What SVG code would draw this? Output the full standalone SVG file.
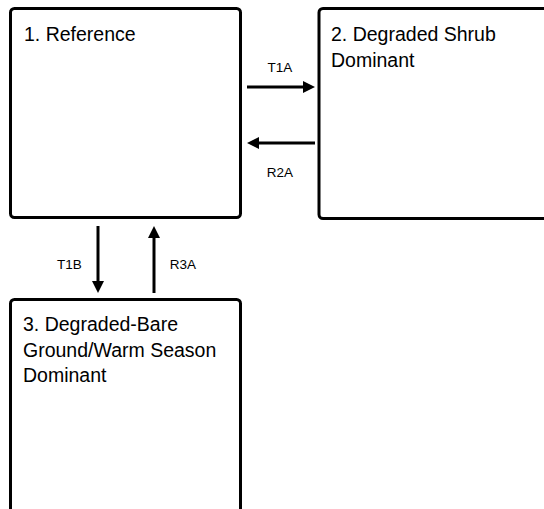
<svg xmlns="http://www.w3.org/2000/svg" width="544" height="509" viewBox="0 0 544 509">
<style>
.box{fill:#fff;stroke:#000;stroke-width:3}
.t{font-family:"Liberation Sans",Arial,sans-serif;font-size:19.5px;fill:#000}
.l{font-family:"Liberation Sans",Arial,sans-serif;font-size:13.5px;fill:#000;text-anchor:middle}
.c{stroke:#000;stroke-width:3;fill:none;marker-end:url(#ah)}
</style>
<defs>
<marker id="ah" viewBox="0 0 12 12" refX="6" refY="6" markerWidth="12" markerHeight="12" markerUnits="userSpaceOnUse" orient="auto">
<path d="M0,0 L12,6 L0,12 z" fill="#000"/>
</marker>
</defs>
<rect width="544" height="509" fill="#fff"/>
<g id="node1">
<rect class="box" x="10.5" y="8.5" width="230" height="209" rx="4"/>
<text class="t" x="24" y="41">1. Reference</text>
</g>
<g id="node2">
<rect class="box" x="319" y="8.5" width="240" height="210" rx="4"/>
<text class="t" x="331" y="41">2. Degraded Shrub</text>
<text class="t" x="331" y="67">Dominant</text>
</g>
<g id="node3">
<rect class="box" x="10.5" y="299.5" width="230" height="220" rx="4"/>
<text class="t" x="23" y="331">3. Degraded-Bare</text>
<text class="t" x="23" y="357">Ground/Warm Season</text>
<text class="t" x="23" y="382">Dominant</text>
</g>
<g id="connectors">
<path class="c" d="M247,87 L309,87"/>
<path class="c" d="M315,143 L253,143"/>
<path class="c" d="M98,226 L98,287"/>
<path class="c" d="M154,293 L154,232"/>
<text class="l" x="280" y="72">T1A</text>
<text class="l" x="280" y="177">R2A</text>
<text class="l" x="69.5" y="269">T1B</text>
<text class="l" x="183" y="269">R3A</text>
</g>
</svg>
